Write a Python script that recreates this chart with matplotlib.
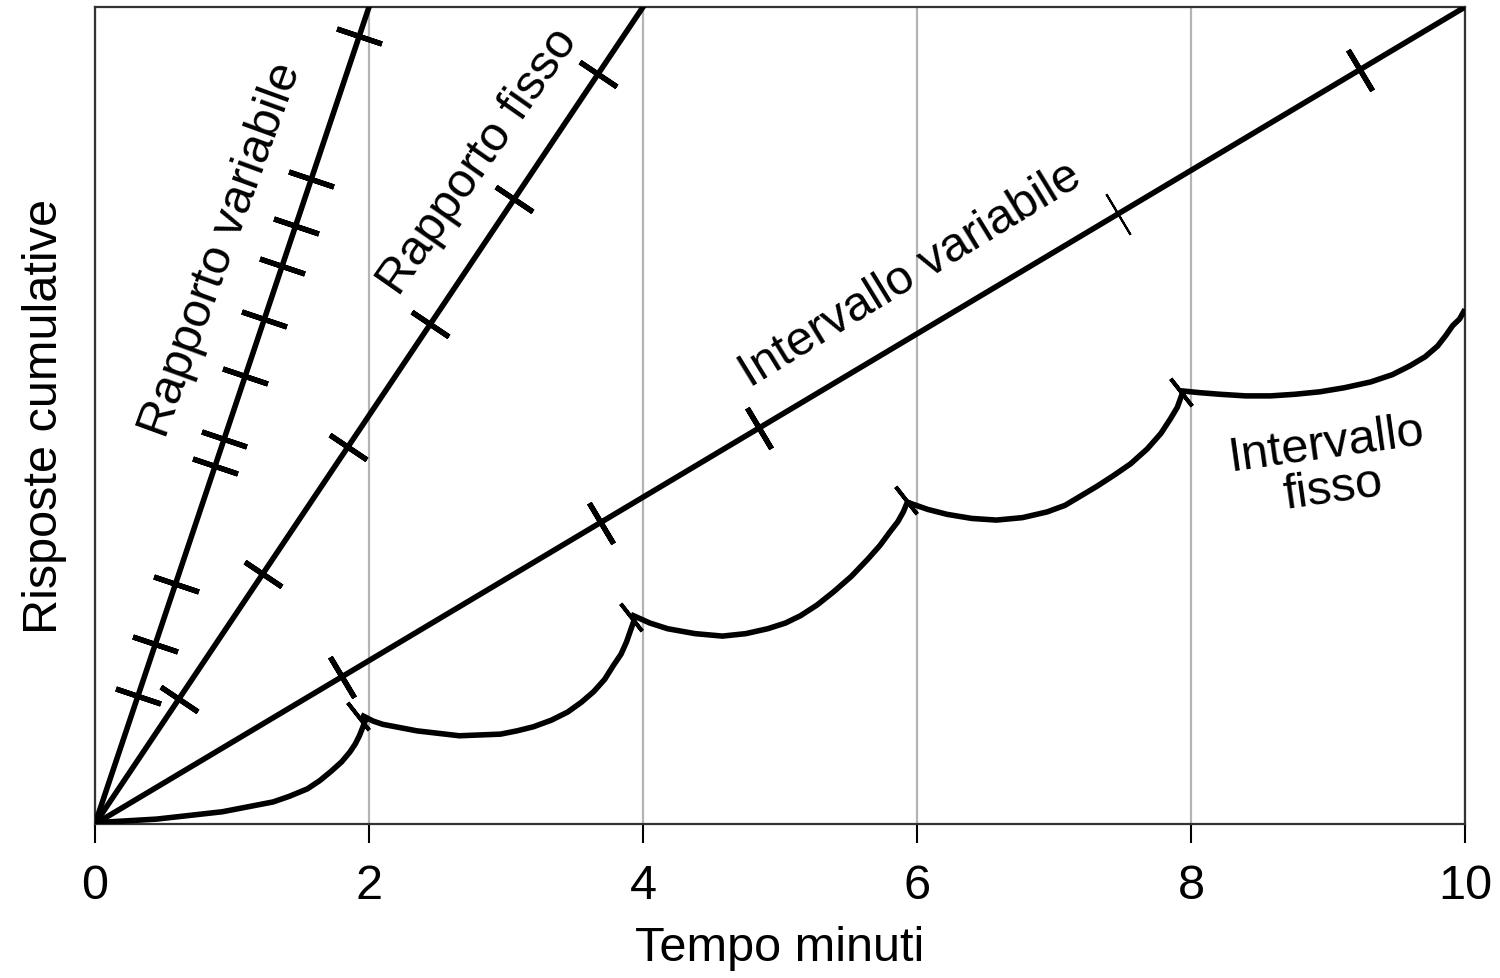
import numpy as np
import matplotlib.pyplot as plt

plt.rcParams['font.family'] = ['Liberation Sans', 'DejaVu Sans']

# straight cumulative records (time in minutes, responses in % of axis height)
rv_x = [0, 2]
rv_y = [0, 100]
rf_x = [0, 4]
rf_y = [0, 100]
iv_x = [0, 10]
iv_y = [0, 100]

# reinforcement marks on the straight records (cumulative responses)
rv_marks = [15.7, 22.0, 29.4, 43.8, 47.1, 54.8, 61.8, 68.3, 73.2, 78.9, 96.5]
rf_marks = [15.3, 30.6, 46.1, 61.2, 76.5, 91.8]
iv_marks_t = [1.80, 3.69, 4.85, 9.23]
iv_thin_t = [7.47]

# fixed interval: scalloped record, one list per scallop
fi_x = [
    [0.0, 0.04, 0.45, 0.93, 1.30, 1.42, 1.55, 1.64, 1.72, 1.80, 1.86, 1.90,
     1.93, 1.97],
    [1.96, 2.03, 2.10, 2.35, 2.66, 2.96, 3.08, 3.20, 3.33, 3.45, 3.55, 3.64,
     3.72, 3.78, 3.84, 3.88, 3.93],
    [3.93, 4.05, 4.18, 4.38, 4.58, 4.75, 4.91, 5.04, 5.15, 5.27, 5.39, 5.52,
     5.64, 5.73, 5.80, 5.86, 5.90, 5.93],
    [5.96, 6.08, 6.22, 6.40, 6.58, 6.77, 6.95, 7.08, 7.19, 7.31, 7.43, 7.56,
     7.68, 7.78, 7.85, 7.90, 7.93],
    [7.94, 8.06, 8.21, 8.40, 8.58, 8.76, 8.94, 9.12, 9.31, 9.47, 9.60, 9.71,
     9.80, 9.86, 9.91, 9.96, 9.99],
]
fi_y = [
    [0.0, 0.2, 0.6, 1.5, 2.7, 3.4, 4.3, 5.3, 6.4, 7.6, 8.8, 9.8,
     10.8, 12.5],
    [13.2, 12.6, 12.2, 11.4, 10.8, 11.0, 11.4, 11.9, 12.7, 13.7, 14.9, 16.2,
     17.7, 19.3, 20.8, 22.3, 24.7],
    [25.5, 24.6, 23.9, 23.3, 23.0, 23.3, 23.9, 24.6, 25.5, 26.8, 28.4, 30.3,
     32.4, 34.1, 35.7, 37.0, 38.2, 39.4],
    [39.2, 38.5, 37.9, 37.4, 37.2, 37.5, 38.2, 39.0, 40.1, 41.3, 42.6, 44.1,
     45.9, 47.8, 49.6, 51.0, 52.4],
    [53.0, 52.8, 52.6, 52.4, 52.4, 52.6, 52.9, 53.4, 54.1, 55.0, 56.1, 57.2,
     58.5, 59.8, 61.0, 61.8, 62.7],
]
fi_marks_x = [1.92, 3.91, 5.92, 7.93]
fi_marks_y = [13.2, 25.3, 39.7, 52.9]

xticks = [0, 2, 4, 6, 8, 10]

fig = plt.figure(figsize=(15, 9.79), dpi=100)
ax = fig.add_axes([95 / 1500, 154 / 979, 1370 / 1500, 817 / 979])
ax.set_xlim(0, 10)
ax.set_ylim(0, 100)


def screen_angle(x, y):
    p = ax.transData.transform(list(zip(x, y)))
    return np.degrees(np.arctan2(p[1, 1] - p[0, 1], p[1, 0] - p[0, 0]))


lw = 4.0
for x, y in [(rv_x, rv_y), (rf_x, rf_y), (iv_x, iv_y)]:
    ax.plot(x, y, color='k', lw=lw, zorder=3)

# cross marks perpendicular to each record
a = screen_angle(rv_x, rv_y)
ax.plot(np.array(rv_marks) * rv_x[1] / rv_y[1], rv_marks, ls='none',
        marker=(2, 2, a), ms=34, mew=3.8, color='k', zorder=4)
a = screen_angle(rf_x, rf_y)
ax.plot(np.array(rf_marks) * rf_x[1] / rf_y[1], rf_marks, ls='none',
        marker=(2, 2, a), ms=32, mew=3.8, color='k', zorder=4)
a = screen_angle(iv_x, iv_y)
ax.plot(iv_marks_t, np.array(iv_marks_t) * iv_y[1] / iv_x[1], ls='none',
        marker=(2, 2, a), ms=34, mew=3.8, color='k', zorder=4)
ax.plot(iv_thin_t, np.array(iv_thin_t) * iv_y[1] / iv_x[1], ls='none',
        marker=(2, 2, a), ms=34, mew=1.5, color='k', zorder=4)

for x, y in zip(fi_x, fi_y):
    ax.plot(x, y, color='k', lw=lw, solid_joinstyle='round', zorder=3)
ax.plot(fi_marks_x, fi_marks_y, ls='none', marker=(2, 2, 38), ms=25,
        mew=2.8, color='k', zorder=4)

fs = 35
ax.text(0.92, 70.4, 'Rapporto variabile', rotation=70, ha='center',
        va='center', fontsize=fs)
ax.text(2.80, 81.2, 'Rapporto fisso', rotation=55, ha='center',
        va='center', fontsize=fs)
ax.text(5.95, 67.3, 'Intervallo variabile', rotation=31.5, ha='center',
        va='center', fontsize=fs)
ax.text(9.01, 43.8, 'Intervallo\nfisso', rotation=8, ha='center',
        va='center', fontsize=fs, linespacing=1.0)

ax.set_xticks(xticks)
ax.set_xticklabels([str(t) for t in xticks])
ax.set_yticks([])
ax.tick_params(axis='x', direction='out', length=14, width=1.5,
               labelsize=fs, pad=14, color='k')
ax.grid(axis='x', color='#b4b4b4', lw=1.6, zorder=1)
ax.set_axisbelow(True)
for s in ax.spines.values():
    s.set_color('#333333')
    s.set_linewidth(1.6)

ax.set_xlabel('Tempo minuti', fontsize=fs, labelpad=12)
ax.set_ylabel('Risposte cumulative', fontsize=fs, labelpad=20)

fig.savefig('out.png', dpi=100)
